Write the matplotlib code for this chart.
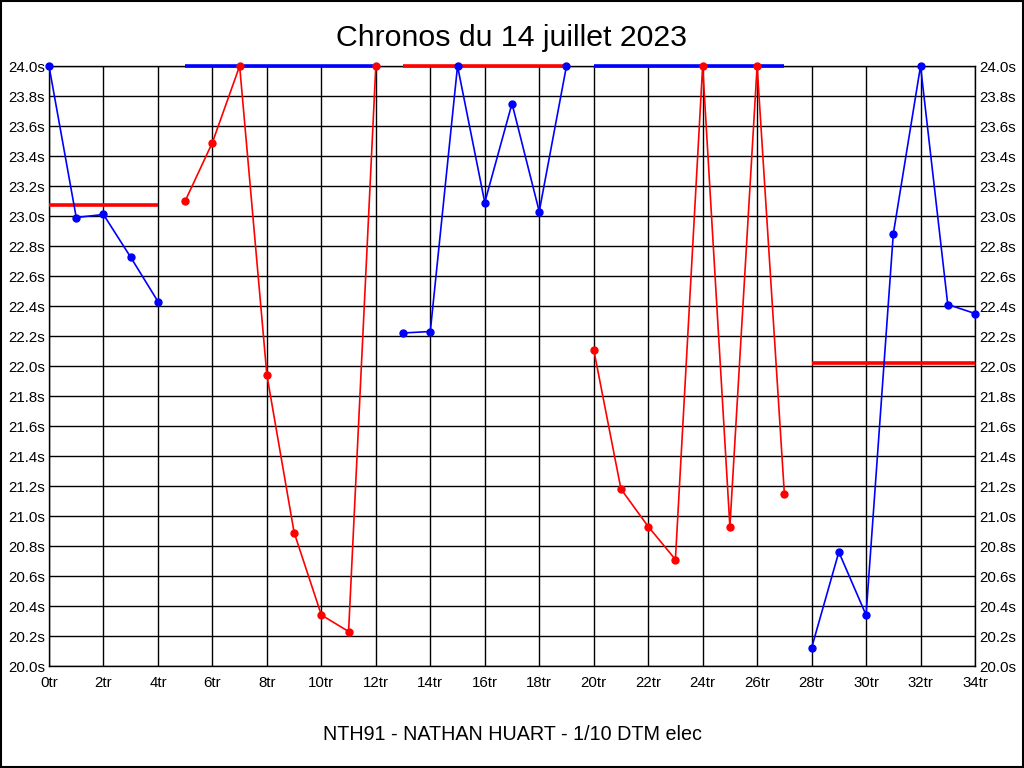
import matplotlib
matplotlib.use("Agg")
import matplotlib.pyplot as plt
from matplotlib.patches import Rectangle

# ---- data ----
title = "Chronos du 14 juillet 2023"
subtitle = "NTH91 - NATHAN HUART - 1/10 DTM elec"

seg1_x = [0, 1, 2, 3, 4]
seg1_y = [24.0, 22.99, 23.01, 22.725, 22.43]
seg2_x = [5, 6, 7, 8, 9, 10, 11, 12]
seg2_y = [23.10, 23.49, 24.0, 21.94, 20.89, 20.34, 20.23, 24.0]
seg3_x = [13, 14, 15, 16, 17, 18, 19]
seg3_y = [22.22, 22.23, 24.0, 23.09, 23.75, 23.03, 24.0]
seg4_x = [20, 21, 22, 23, 24, 25, 26, 27]
seg4_y = [22.11, 21.18, 20.93, 20.71, 24.0, 20.93, 24.0, 21.15]
seg5_x = [28, 29, 30, 31, 32, 33, 34]
seg5_y = [20.12, 20.76, 20.34, 22.88, 24.0, 22.41, 22.35]

segments_x = [seg1_x, seg2_x, seg3_x, seg4_x, seg5_x]
segments_y = [seg1_y, seg2_y, seg3_y, seg4_y, seg5_y]
segment_colors = ["#0000ff", "#ff0000", "#0000ff", "#ff0000", "#0000ff"]
average_values = [23.073, 24.0, 24.0, 24.0, 22.02]
average_colors = ["#ff0000", "#0000ff", "#ff0000", "#0000ff", "#ff0000"]

x_ticks = list(range(0, 35, 2))
x_labels = [f"{v}tr" for v in x_ticks]
y_ticks = [round(20.0 + 0.2 * i, 1) for i in range(21)]
y_labels = [f"{v:.1f}s" for v in y_ticks]

# ---- figure ----
plt.rcParams['font.family'] = ['Liberation Sans', 'DejaVu Sans']
fig = plt.figure(figsize=(10.24, 7.68), dpi=100)
fig.patch.set_facecolor("white")
fig.patches.append(Rectangle((0.0005, 0.0007), 0.9985, 0.9983, transform=fig.transFigure,
                             fill=False, edgecolor="black", linewidth=1.5))

ax = fig.add_axes([49 / 1024, 1 - 666 / 768, 926 / 1024, 600 / 768])
ax.set_xlim(0, 34)
ax.set_ylim(20.0, 24.0)

ax.set_xticks(x_ticks)
ax.set_xticklabels(x_labels)
ax.set_yticks(y_ticks)
ax.set_yticklabels(y_labels)
ax.tick_params(axis='both', length=0, labelsize=10.8, colors="black")
ax.tick_params(axis='x', pad=7)
ax.tick_params(axis='y', pad=3, labelright=True, right=False)
for lab in ax.get_xticklabels() + ax.get_yticklabels():
    lab.set_fontfamily(['Liberation Sans Narrow', 'Liberation Sans', 'DejaVu Sans'])

ax.grid(True, color="black", linewidth=1.0)
ax.set_axisbelow(True)
for s in ax.spines.values():
    s.set_color("black")
    s.set_linewidth(1.0)

for xs, ys, c, avg, ac in zip(segments_x, segments_y, segment_colors,
                              average_values, average_colors):
    ax.plot([xs[0], xs[-1]], [avg, avg], color=ac, linewidth=2.6,
            solid_capstyle='butt', zorder=3, clip_on=False)
    ax.plot(xs, ys, color=c, linewidth=1.2, marker='o', markersize=5,
            zorder=4, clip_on=False)

fig.text(0.5, 1 - 38 / 768, title, ha='center', va='center', fontsize=21.8)
fig.text(0.5, 1 - 734 / 768, subtitle, ha='center', va='center', fontsize=14.2)

fig.savefig("out.png", dpi=100, facecolor="white")
